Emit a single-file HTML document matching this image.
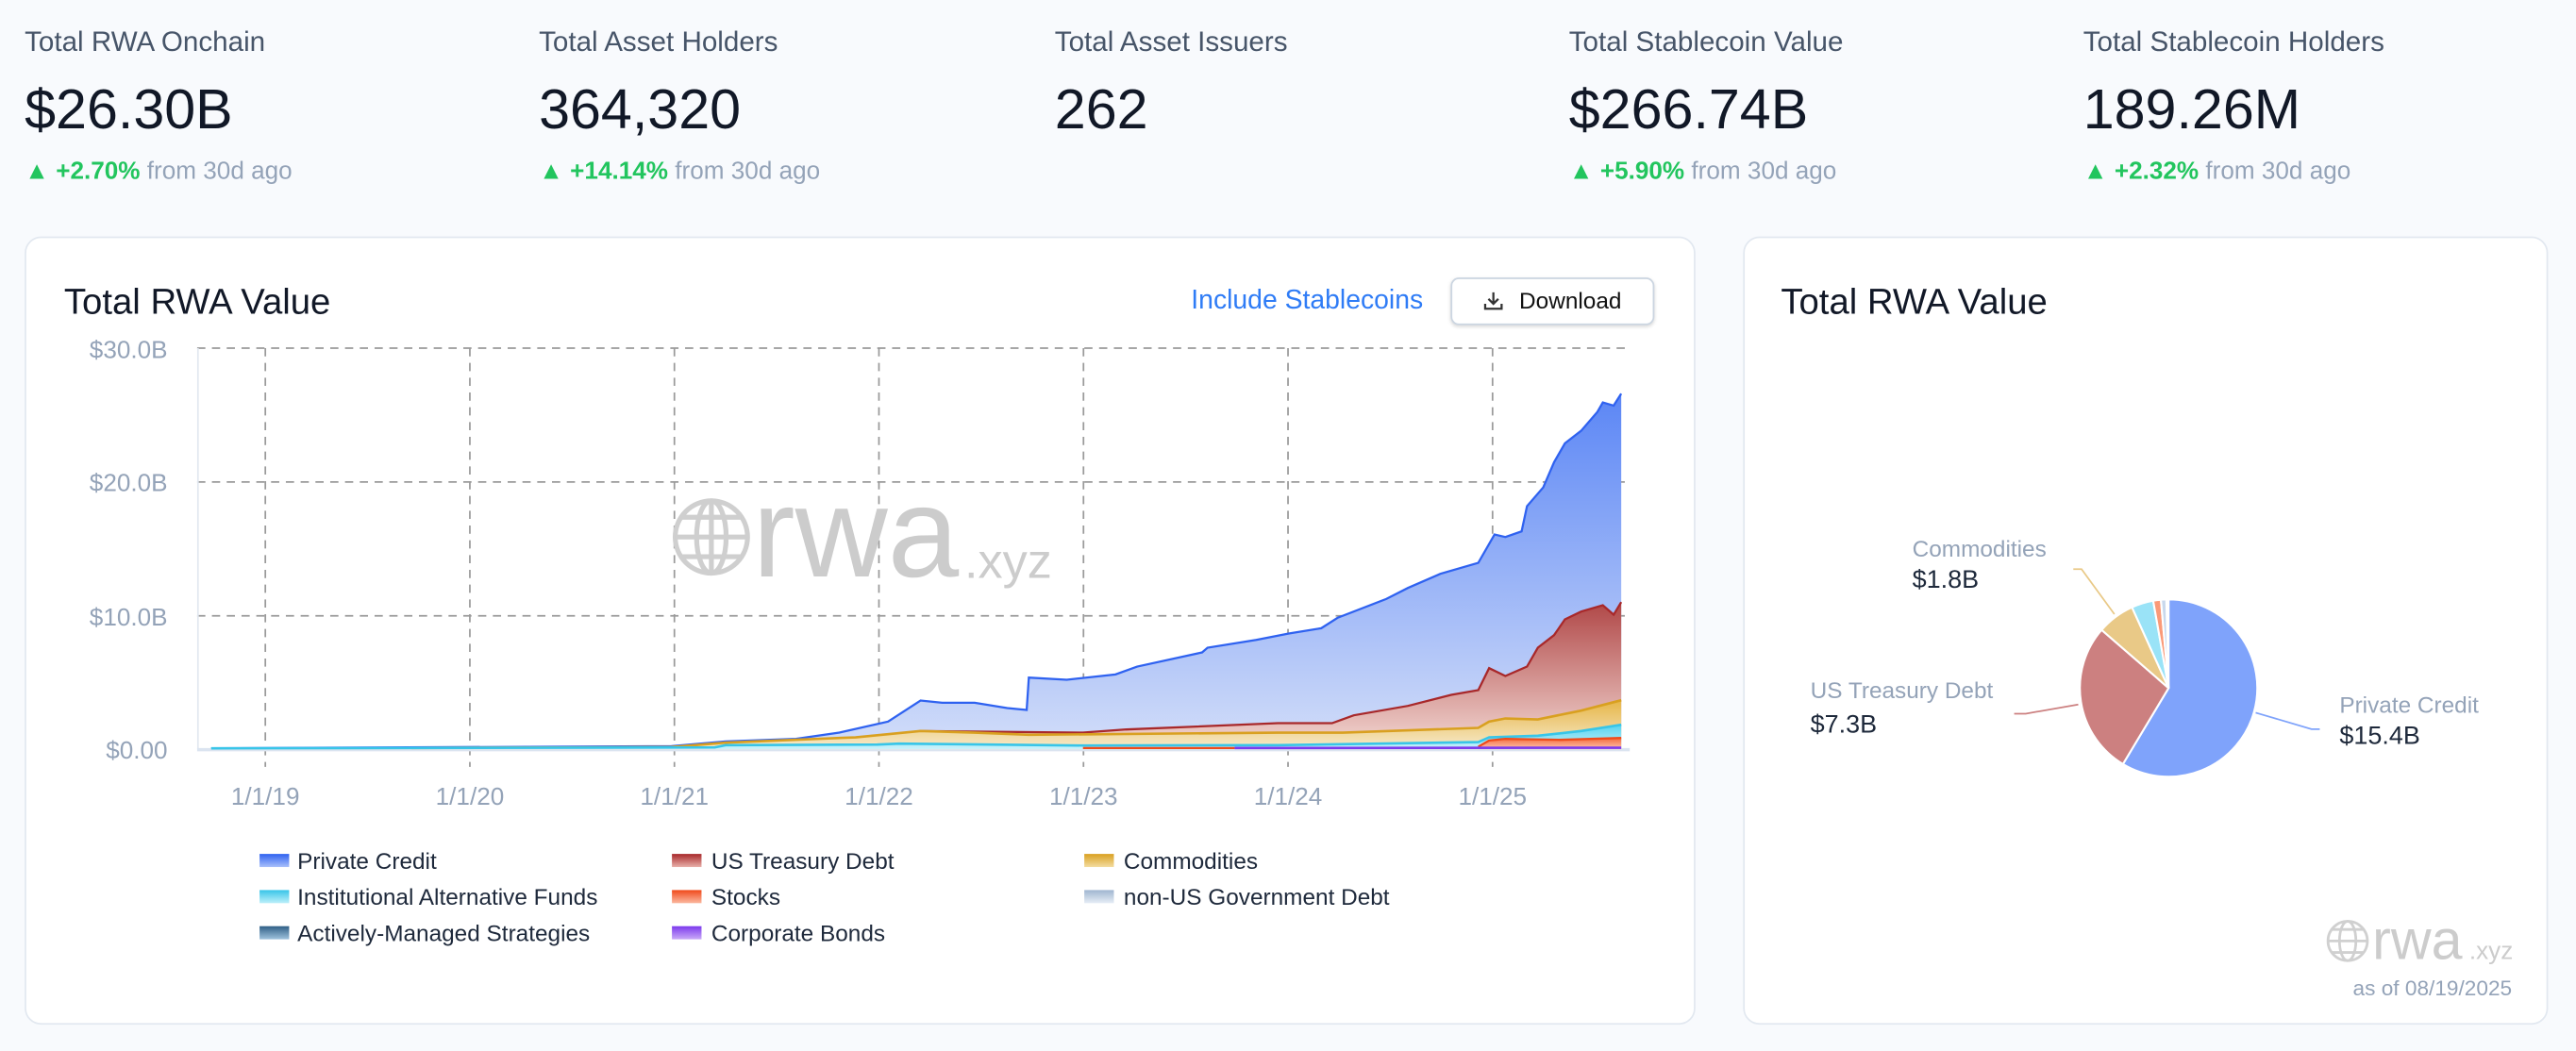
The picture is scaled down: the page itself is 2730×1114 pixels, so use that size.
<!DOCTYPE html>
<html><head><meta charset="utf-8"><style>
html,body{margin:0;padding:0;background:#f8fafd;width:2730px;height:1114px;overflow:hidden}
#w{position:absolute;left:0;top:0;width:1568px;height:640px;transform:scale(1.7411,1.7406);transform-origin:0 0;font-family:"Liberation Sans",sans-serif}
.st{position:absolute;top:15px}
.st .l{font-size:17px;color:#475569;line-height:22px}
.st .v{font-size:34px;color:#111827;margin-top:10px;line-height:40px}
.st .c{font-size:15px;color:#94a3b8;margin-top:9px}
.st .c b{color:#22c55e;font-weight:bold}
.card{position:absolute;top:144px;height:480px;background:#fff;border:1px solid #e2e8f0;border-radius:10px;box-sizing:border-box}
.tt{position:absolute;font-size:22px;color:#111827}
</style></head><body><div id="w">
<div class="st" style="left:15px"><div class="l">Total RWA Onchain</div><div class="v">$26.30B</div><div class="c"><b>▲ +2.70%</b> from 30d ago</div></div>
<div class="st" style="left:328px"><div class="l">Total Asset Holders</div><div class="v">364,320</div><div class="c"><b>▲ +14.14%</b> from 30d ago</div></div>
<div class="st" style="left:642px"><div class="l">Total Asset Issuers</div><div class="v">262</div></div>
<div class="st" style="left:955px"><div class="l">Total Stablecoin Value</div><div class="v">$266.74B</div><div class="c"><b>▲ +5.90%</b> from 30d ago</div></div>
<div class="st" style="left:1268px"><div class="l">Total Stablecoin Holders</div><div class="v">189.26M</div><div class="c"><b>▲ +2.32%</b> from 30d ago</div></div>

<div class="card" style="left:15px;width:1017px"></div>
<div class="card" style="left:1061px;width:490px"></div>
<div class="tt" style="left:39px;top:171px">Total RWA Value</div>
<div class="tt" style="left:1084px;top:171px">Total RWA Value</div>
<div style="position:absolute;left:725px;top:174px;font-size:16.3px;color:#2f7cf6">Include Stablecoins</div>
<div style="position:absolute;left:883px;top:169px;width:124px;height:29px;box-sizing:border-box;border:1px solid #cbd5e1;border-radius:5px;background:#fff;box-shadow:0 1px 2px rgba(0,0,0,.15);font-size:14px;color:#111;line-height:27px;text-align:right;padding-right:19px">Download</div>
<svg style="position:absolute;left:903px;top:177px" width="12" height="12" viewBox="0 0 12 12"><path d="M6 1v7M3 5l3 3 3-3M1 8v3h10V8" fill="none" stroke="#333" stroke-width="1.3"/></svg>

<svg style="position:absolute;left:0;top:0" width="1568" height="640">
<defs>
<linearGradient id="gb" x1="0" y1="0" x2="0" y2="1"><stop offset="0" stop-color="#5b86f5"/><stop offset="1" stop-color="#d3def9"/></linearGradient>
<linearGradient id="gr" x1="0" y1="0" x2="0" y2="1"><stop offset="0" stop-color="#b04747"/><stop offset="1" stop-color="#f3d9d4"/></linearGradient>
<linearGradient id="gy" x1="0" y1="0" x2="0" y2="1"><stop offset="0" stop-color="#e6b547"/><stop offset="1" stop-color="#f7ebcd"/></linearGradient>
<linearGradient id="gc" x1="0" y1="0" x2="0" y2="1"><stop offset="0" stop-color="#55d3ef"/><stop offset="1" stop-color="#cdf2fa"/></linearGradient>
<linearGradient id="go" x1="0" y1="0" x2="0" y2="1"><stop offset="0" stop-color="#f56a3a"/><stop offset="1" stop-color="#fcc7b4"/></linearGradient>
</defs>
<g stroke="#9a9a9a" stroke-dasharray="5,4" stroke-width="1">
<line x1="120" y1="212" x2="992" y2="212"/><line x1="120" y1="293.5" x2="992" y2="293.5"/><line x1="120" y1="375" x2="992" y2="375"/>
<line x1="161.5" y1="212" x2="161.5" y2="467"/><line x1="286" y1="212" x2="286" y2="467"/><line x1="410.5" y1="212" x2="410.5" y2="467"/><line x1="535" y1="212" x2="535" y2="467"/><line x1="659.5" y1="212" x2="659.5" y2="467"/><line x1="784" y1="212" x2="784" y2="467"/><line x1="908.5" y1="212" x2="908.5" y2="467"/>
</g>
<line x1="120.5" y1="212" x2="120.5" y2="456" stroke="#e2e8f0"/>
<line x1="120" y1="456.5" x2="992" y2="456.5" stroke="#dbe4f0" stroke-width="2"/>
<g font-size="15" fill="#94a3b8" text-anchor="end"><text x="102" y="218">$30.0B</text><text x="102" y="299">$20.0B</text><text x="102" y="381">$10.0B</text><text x="102" y="462">$0.00</text></g>
<g font-size="15" fill="#94a3b8" text-anchor="middle"><text x="161.5" y="490">1/1/19</text><text x="286" y="490">1/1/20</text><text x="410.5" y="490">1/1/21</text><text x="535" y="490">1/1/22</text><text x="659.5" y="490">1/1/23</text><text x="784" y="490">1/1/24</text><text x="908.5" y="490">1/1/25</text></g>
<!-- watermark -->
<g fill="none" stroke="#cfcfcf" stroke-width="3"><circle cx="433" cy="327" r="22"/><ellipse cx="433" cy="327" rx="9" ry="22"/><line x1="411" y1="327" x2="455" y2="327"/><line x1="433" y1="305" x2="433" y2="349"/><path d="M415 315h36M415 339h36"/></g>
<text x="458" y="351" font-size="78" fill="#cccccc">rwa</text><text x="587" y="352" font-size="30" fill="#cccccc">.xyz</text>
<g transform="translate(0,189.55) scale(0.6592,0.19147)">
<path fill="url(#gb)" d="M195,1393 L195,1390 620,1383 670,1368 735,1360 775,1340 820,1305 850,1238 870,1245 900,1245 930,1262 948,1268 950,1165 985,1172 1030,1155 1050,1130 1110,1085 1115,1070 1160,1045 1190,1025 1220,1008 1235,975 1280,915 1300,880 1330,835 1365,800 1375,740 1380,710 1390,718 1405,700 1410,620 1425,560 1435,480 1445,420 1460,380 1475,320 1480,290 1490,300 1497,262 L1497,1393Z"/>
<path fill="none" stroke="#2f62f0" stroke-width="1.3" vector-effect="non-scaling-stroke" d="M195,1390 620,1383 670,1368 735,1360 775,1340 820,1305 850,1238 870,1245 900,1245 930,1262 948,1268 950,1165 985,1172 1030,1155 1050,1130 1110,1085 1115,1070 1160,1045 1190,1025 1220,1008 1235,975 1280,915 1300,880 1330,835 1365,800 1375,740 1380,710 1390,718 1405,700 1410,620 1425,560 1435,480 1445,420 1460,380 1475,320 1480,290 1490,300 1497,262"/>
<path fill="url(#gr)" d="M195,1393 L195,1390 620,1386 670,1372 790,1360 850,1335 1000,1340 1040,1330 1180,1310 1230,1310 1250,1285 1300,1255 1340,1220 1365,1205 1375,1135 1390,1160 1410,1130 1420,1070 1435,1030 1445,980 1460,955 1480,935 1490,965 1497,925 L1497,1393Z"/>
<path fill="none" stroke="#a8282a" stroke-width="1.3" vector-effect="non-scaling-stroke" d="M620,1386 670,1372 790,1360 850,1335 1000,1340 1040,1330 1180,1310 1230,1310 1250,1285 1300,1255 1340,1220 1365,1205 1375,1135 1390,1160 1410,1130 1420,1070 1435,1030 1445,980 1460,955 1480,935 1490,965 1497,925"/>
<path fill="url(#gy)" d="M195,1393 L195,1390 620,1386 670,1372 790,1355 850,1335 900,1340 950,1347 1180,1340 1240,1340 1365,1325 1375,1305 1390,1295 1420,1298 1460,1270 1497,1237 L1497,1393Z"/>
<path fill="none" stroke="#d9a020" stroke-width="1.5" vector-effect="non-scaling-stroke" d="M380,1389 620,1386 670,1372 790,1355 850,1335 900,1340 950,1347 1180,1340 1240,1340 1365,1325 1375,1305 1390,1295 1420,1298 1460,1270 1497,1237"/>
<path fill="url(#gc)" d="M195,1393 L195,1390 660,1387 670,1380 810,1378 830,1375 1000,1381 1180,1380 1365,1370 1375,1355 1420,1350 1460,1335 1497,1315 L1497,1393Z"/>
<path fill="none" stroke="#38c5e8" stroke-width="1.5" vector-effect="non-scaling-stroke" d="M195,1390 660,1387 670,1380 810,1378 830,1375 1000,1381 1180,1380 1365,1370 1375,1355 1420,1350 1460,1335 1497,1315"/>
<path fill="url(#go)" d="M1365,1393 L1365,1385 1375,1365 1390,1360 1440,1363 1497,1357 L1497,1393Z"/>
<path fill="none" stroke="#f04a1a" stroke-width="1.3" vector-effect="non-scaling-stroke" d="M1000,1389 1140,1389 M1365,1385 1375,1365 1390,1360 1440,1363 1497,1357"/>
<path fill="none" stroke="#7c3aed" stroke-width="1.5" vector-effect="non-scaling-stroke" d="M1140,1389 1497,1388"/>
</g>
<!-- legend -->
<defs>
<linearGradient id="lb" x1="0" y1="0" x2="0" y2="1"><stop offset="0" stop-color="#2f62f0"/><stop offset="1" stop-color="#a9c0fa"/></linearGradient>
<linearGradient id="lr" x1="0" y1="0" x2="0" y2="1"><stop offset="0" stop-color="#a8282a"/><stop offset="1" stop-color="#e8b0aa"/></linearGradient>
<linearGradient id="ly" x1="0" y1="0" x2="0" y2="1"><stop offset="0" stop-color="#d9a020"/><stop offset="1" stop-color="#f3dca0"/></linearGradient>
<linearGradient id="lc" x1="0" y1="0" x2="0" y2="1"><stop offset="0" stop-color="#38c5e8"/><stop offset="1" stop-color="#bdf0fa"/></linearGradient>
<linearGradient id="lo" x1="0" y1="0" x2="0" y2="1"><stop offset="0" stop-color="#f04a1a"/><stop offset="1" stop-color="#fbb8a0"/></linearGradient>
<linearGradient id="ln" x1="0" y1="0" x2="0" y2="1"><stop offset="0" stop-color="#9fb5d0"/><stop offset="1" stop-color="#e6edf6"/></linearGradient>
<linearGradient id="la" x1="0" y1="0" x2="0" y2="1"><stop offset="0" stop-color="#2f5f86"/><stop offset="1" stop-color="#9fc3de"/></linearGradient>
<linearGradient id="lp" x1="0" y1="0" x2="0" y2="1"><stop offset="0" stop-color="#7c3aed"/><stop offset="1" stop-color="#c9a9f7"/></linearGradient>
</defs>
<g>
<rect x="158" y="520" width="18" height="8" fill="url(#lb)"/><rect x="409" y="520" width="18" height="8" fill="url(#lr)"/><rect x="660" y="520" width="18" height="8" fill="url(#ly)"/>
<rect x="158" y="542" width="18" height="8" fill="url(#lc)"/><rect x="409" y="542" width="18" height="8" fill="url(#lo)"/><rect x="660" y="542" width="18" height="8" fill="url(#ln)"/>
<rect x="158" y="564" width="18" height="8" fill="url(#la)"/><rect x="409" y="564" width="18" height="8" fill="url(#lp)"/>
</g>
<g font-size="14" fill="#1e293b">
<text x="181" y="529">Private Credit</text><text x="433" y="529">US Treasury Debt</text><text x="684" y="529">Commodities</text>
<text x="181" y="551">Institutional Alternative Funds</text><text x="433" y="551">Stocks</text><text x="684" y="551">non-US Government Debt</text>
<text x="181" y="573">Actively-Managed Strategies</text><text x="433" y="573">Corporate Bonds</text>
</g>
<!-- pie -->
<g stroke="#fff" stroke-width="1.2">
<path d="M1320,419 L1320,365 A54,54 0 1 1 1292.2,465.3Z" fill="#7fa3fb"/>
<path d="M1320,419 L1292.2,465.3 A54,54 0 0 1 1279.2,383.6Z" fill="#cc8080"/>
<path d="M1320,419 L1279.2,383.6 A54,54 0 0 1 1297.7,369.8Z" fill="#e9c987"/>
<path d="M1320,419 L1297.7,369.8 A54,54 0 0 1 1310.6,365.8Z" fill="#9ae3f7"/>
<path d="M1320,419 L1310.6,365.8 A54,54 0 0 1 1315.3,365.2Z" fill="#fa9a78"/>
<path d="M1320,419 L1315.3,365.2 A54,54 0 0 1 1318.6,365Z" fill="#c8d8ec"/>
</g>
<g fill="none" stroke-width="1">
<polyline points="1373,434 1407,444 1412,444" stroke="#7fa3fb"/>
<polyline points="1265,429 1233,434.6 1226,434.6" stroke="#cc8080"/>
<polyline points="1287,374 1267,346.6 1262,346.6" stroke="#e9c987"/>
</g>
<g font-size="14" fill="#94a3b8"><text x="1164" y="339">Commodities</text><text x="1102" y="425">US Treasury Debt</text><text x="1424" y="434">Private Credit</text></g>
<g font-size="15.5" fill="#1e293b"><text x="1164" y="358">$1.8B</text><text x="1102" y="446">$7.3B</text><text x="1424" y="453">$15.4B</text></g>
<g fill="none" stroke="#d0d0d0" stroke-width="1.6"><circle cx="1429" cy="573" r="12"/><ellipse cx="1429" cy="573" rx="5" ry="12"/><line x1="1417" y1="573" x2="1441" y2="573"/><path d="M1419 566h20M1419 580h20"/></g>
<text x="1444" y="584" font-size="34" fill="#cccccc">rwa</text><text x="1503" y="584" font-size="15" fill="#cccccc">.xyz</text>
<text x="1529" y="606" font-size="13" fill="#94a3b8" text-anchor="end">as of 08/19/2025</text>
</svg>
</div></body></html>
